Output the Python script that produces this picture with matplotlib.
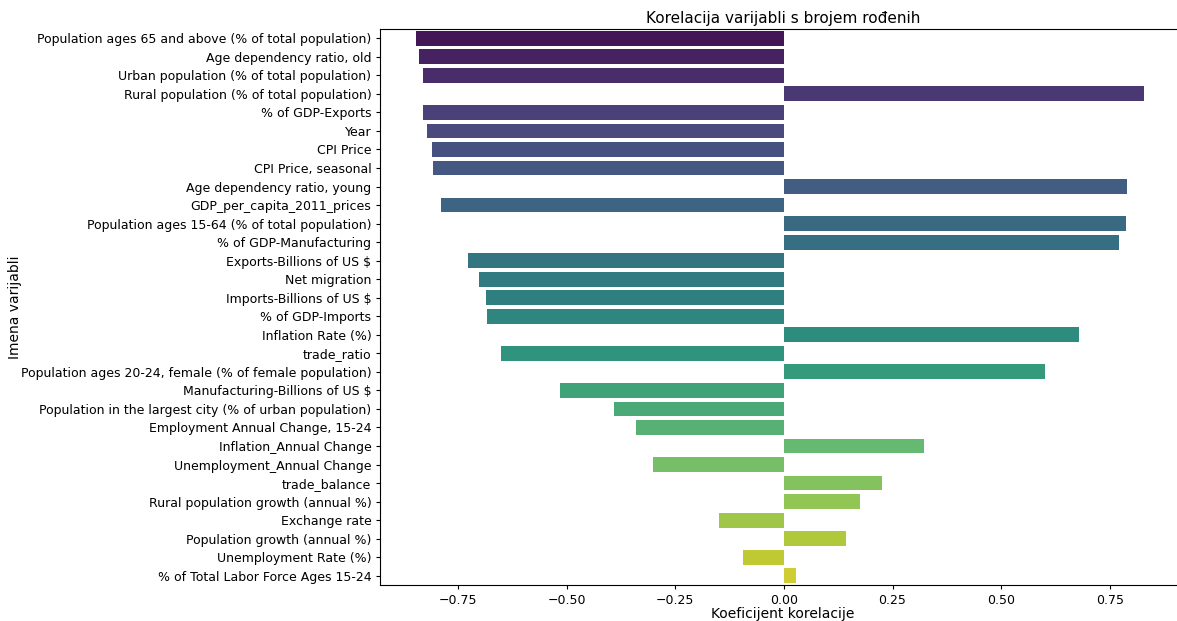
import matplotlib
matplotlib.use("Agg")
import matplotlib.pyplot as plt
import seaborn as sns
import pandas as pd

variables = [
    "Population ages 65 and above (% of total population)",
    "Age dependency ratio, old",
    "Urban population (% of total population)",
    "Rural population (% of total population)",
    "% of GDP-Exports",
    "Year",
    "CPI Price",
    "CPI Price, seasonal",
    "Age dependency ratio, young",
    "GDP_per_capita_2011_prices",
    "Population ages 15-64 (% of total population)",
    "% of GDP-Manufacturing",
    "Exports-Billions of US $",
    "Net migration",
    "Imports-Billions of US $",
    "% of GDP-Imports",
    "Inflation Rate (%)",
    "trade_ratio",
    "Population ages 20-24, female (% of female population)",
    "Manufacturing-Billions of US $",
    "Population in the largest city (% of urban population)",
    "Employment Annual Change, 15-24",
    "Inflation_Annual Change",
    "Unemployment_Annual Change",
    "trade_balance",
    "Rural population growth (annual %)",
    "Exchange rate",
    "Population growth (annual %)",
    "Unemployment Rate (%)",
    "% of Total Labor Force Ages 15-24",
]
correlations = [
    -0.847, -0.839, -0.830, 0.828, -0.830, -0.820, -0.810, -0.808, 0.790, -0.789,
    0.786, 0.770, -0.727, -0.701, -0.686, -0.683, 0.679, -0.650, 0.600, -0.516,
    -0.391, -0.339, 0.323, -0.301, 0.225, 0.176, -0.150, 0.144, -0.094, 0.029,
]

df = pd.DataFrame({"Varijabla": variables, "Korelacija": correlations})

fig = plt.figure(figsize=(11.77, 6.21), dpi=100)
W, H = 1177, 621
left, right, top, bottom = 380, 1186, 29, 585
ax = fig.add_axes([left / W, 1 - bottom / H, (right - left) / W, (bottom - top) / H])

sns.barplot(data=df, x="Korelacija", y="Varijabla", hue="Varijabla",
            palette="viridis", legend=False, ax=ax)

ax.set_xlim(-0.929, 0.925)
ax.set_title("Korelacija varijabli s brojem rođenih", fontsize=11, pad=4)
ax.set_xlabel("Koeficijent korelacije", fontsize=10, labelpad=0)
ax.set_ylabel("Imena varijabli", fontsize=10)
ax.yaxis.set_label_coords((22 - left) / (right - left), 0.5)
ax.set_xticks([-0.75, -0.5, -0.25, 0.0, 0.25, 0.5, 0.75])
ax.tick_params(labelsize=9, length=3.2, pad=3)

fig.savefig("out.png", dpi=100)
